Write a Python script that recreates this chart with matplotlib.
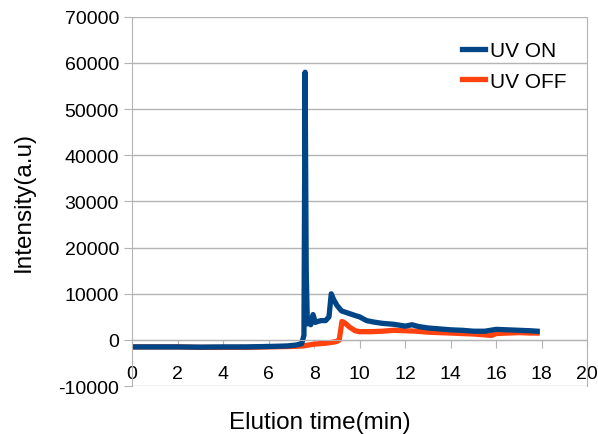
import matplotlib.pyplot as plt
import numpy as np

plt.rcParams['font.family'] = ['Liberation Sans', 'DejaVu Sans']
plt.rcParams['axes.unicode_minus'] = False

# UV ON trace
t_on = [0, 1, 2, 3, 4, 5, 6, 6.8, 7.2, 7.45, 7.55, 7.6, 7.65, 7.7, 7.75, 7.85, 7.95, 8.05, 8.15, 8.3,
        8.5, 8.65, 8.75, 8.85, 9.0, 9.2, 9.5, 9.8, 10.0, 10.3, 10.6, 11.0, 11.5, 12.0, 12.3, 12.6,
        13.0, 13.5, 14.0, 14.5, 15.0, 15.5, 16.0, 16.5, 17.0, 17.5, 17.8]
i_on = [-1500, -1500, -1500, -1550, -1500, -1500, -1400, -1300, -1100, -800, 1000, 58000, 15000, 3500,
        4000, 3300, 5500, 3800, 4000, 4200, 4200, 5000, 10000, 8800, 7500, 6300, 5800, 5300, 5000,
        4200, 3900, 3600, 3400, 3000, 3300, 2900, 2600, 2400, 2200, 2100, 1900, 1900, 2300, 2200,
        2100, 2000, 1900]

# UV OFF trace
t_off = [0, 1, 2, 3, 4, 5, 6, 7.0, 7.5, 8.0, 8.5, 8.8, 9.0, 9.1, 9.22, 9.35, 9.55, 9.8, 10.0, 10.5,
         11.0, 11.5, 12.0, 12.5, 13.0, 13.5, 14.0, 14.5, 15.0, 15.5, 15.8, 16.0, 16.5, 17.0, 17.5, 17.8]
i_off = [-1500, -1500, -1500, -1600, -1600, -1600, -1500, -1400, -1300, -900, -700, -500, -300, 0,
         4000, 3700, 2800, 2000, 1800, 1800, 1900, 2100, 2000, 1900, 1700, 1600, 1500, 1400, 1300,
         1100, 1000, 1400, 1500, 1600, 1500, 1500]

xticks = list(range(0, 21, 2))
yticks = list(range(-10000, 70001, 10000))

fig = plt.figure(figsize=(5.98, 4.35), dpi=100)
ax = fig.add_axes([0.221, 0.110, 0.761, 0.849])

ax.plot(t_on, i_on, color='#004586', lw=3.8, label='UV ON', solid_joinstyle='round')
ax.plot(t_off, i_off, color='#ff420e', lw=3.8, label='UV OFF', solid_joinstyle='round', zorder=1.5)

ax.set_xlim(0, 20)
ax.set_ylim(-10000, 70000)
ax.set_xticks(xticks)
ax.set_yticks(yticks)

ax.yaxis.grid(True, color='#b3b3b3', lw=1)
ax.set_axisbelow(True)
ax.spines['top'].set_visible(False)
ax.spines['bottom'].set_position(('data', 0))
for s in ['left', 'right', 'bottom']:
    ax.spines[s].set_color('#b3b3b3')
ax.tick_params(axis='both', colors='#b3b3b3', labelcolor='black', labelsize=14, length=6)
ax.tick_params(axis='x', pad=12)

ax.set_xlabel('Elution time(min)', fontsize=17.5)
ax.xaxis.set_label_coords(0.413, -0.068)
ax.set_ylabel('Intensity(a.u)', fontsize=17.5, labelpad=17)

ax.legend(loc='upper right', bbox_to_anchor=(0.995, 0.985), frameon=False, fontsize=15,
          handlelength=1.1, handletextpad=0.25, labelspacing=0.55)

plt.savefig('out.png', dpi=100)
